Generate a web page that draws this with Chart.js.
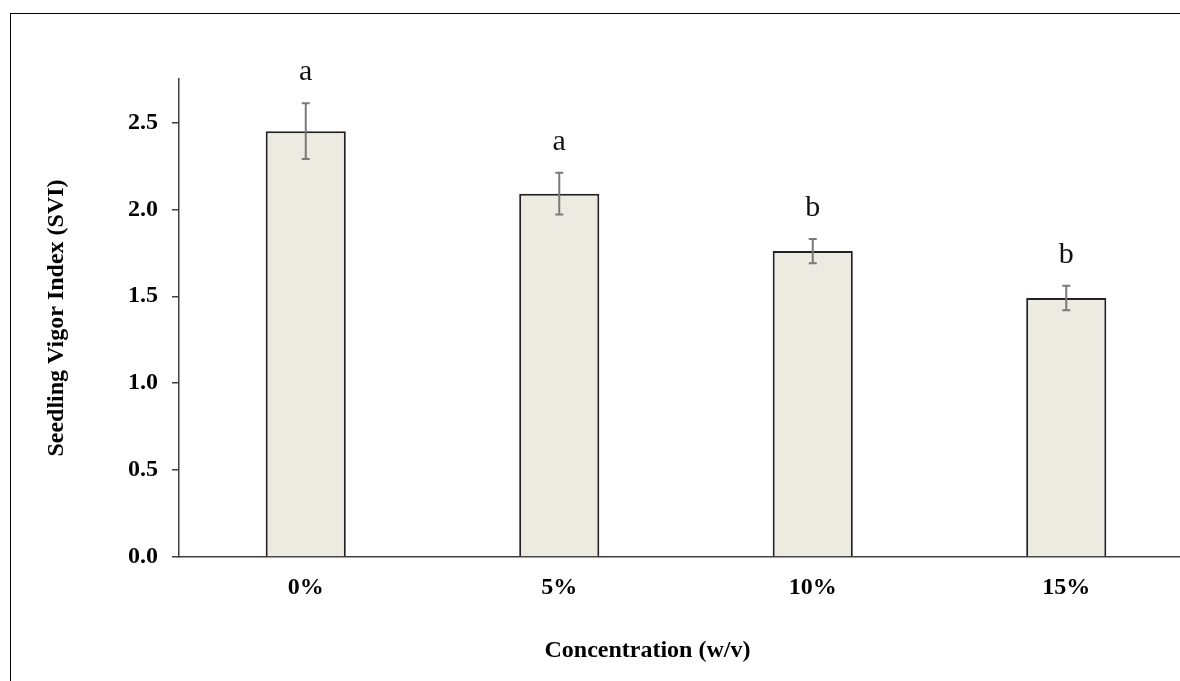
<!DOCTYPE html>
<html>
<head>
<meta charset="utf-8">
<script src="https://cdn.jsdelivr.net/npm/chart.js@4.4.1/dist/chart.umd.min.js"></script>
<style>
  html, body { margin: 0; padding: 0; background: #fff; overflow: hidden; }
  body { width: 1180px; height: 681px; position: relative; }
  #frame { position: absolute; left: 10px; top: 13px; width: 1200px; height: 700px;
           border-top: 1.5px solid #000; border-left: 1.5px solid #000; }
  #wrap { position: absolute; left: 0; top: 0; width: 1200px; height: 681px; }
</style>
</head>
<body>
<div id="frame"></div>
<div id="wrap"><canvas id="barChart"></canvas></div>
<script>
// Data
const concentrations = ["0%", "5%", "10%", "15%"];
const svi = [2.45, 2.09, 1.76, 1.49];
const sviError = [0.16, 0.12, 0.07, 0.07];
const groupLetters = ["a", "a", "b", "b"];
const xTitle = "Concentration (w/v)";
const yTitle = "Seedling Vigor Index (SVI)";

// error bars + significance letters, drawn with the chart's own scales
const errorBarPlugin = {
  id: "errorBars",
  afterDatasetsDraw(chart) {
    const ctx = chart.ctx;
    const y = chart.scales.y;
    const meta = chart.getDatasetMeta(0);
    ctx.save();
    meta.data.forEach((bar, i) => {
      const x = bar.x;
      const top = y.getPixelForValue(svi[i] + sviError[i]);
      const bottom = y.getPixelForValue(svi[i] - sviError[i]);
      ctx.strokeStyle = "#7a7a7a";
      ctx.lineWidth = 2;
      ctx.beginPath();
      ctx.moveTo(x, top); ctx.lineTo(x, bottom);
      ctx.moveTo(x - 4, top); ctx.lineTo(x + 4, top);
      ctx.moveTo(x - 4, bottom); ctx.lineTo(x + 4, bottom);
      ctx.stroke();
      // letter above the error bar
      ctx.fillStyle = "#111";
      ctx.font = "30px 'Liberation Serif'";
      ctx.textAlign = "center";
      ctx.textBaseline = "alphabetic";
      ctx.fillText(groupLetters[i], x, top - 23);
    });
    ctx.restore();
  },
  // x axis title sits a bit left of the axis centre in the original
  afterDraw(chart) {
    const ctx = chart.ctx;
    const xs = chart.scales.x;
    ctx.save();
    ctx.fillStyle = "#000";
    ctx.font = "bold 24px 'Liberation Serif'";
    ctx.textAlign = "center";
    ctx.textBaseline = "middle";
    ctx.fillText(xTitle, xs.left + (xs.right - xs.left) * 0.462, xs.bottom - 30);
    ctx.restore();
  }
};

const config = {
  type: "bar",
  data: {
    labels: concentrations,
    datasets: [
      {
        label: "SVI",
        data: svi,
        backgroundColor: "#edebe1",
        borderColor: "#222",
        borderWidth: 2,
        categoryPercentage: 1,
        barPercentage: 0.316,
      },
    ],
  },
  options: {
    responsive: true,
    maintainAspectRatio: false,
    animation: false,
    layout: { padding: { left: 15, top: 79, right: 7, bottom: 0 } },
    plugins: { legend: { display: false }, tooltip: { enabled: false } },
    scales: {
      x: {
        offset: true,
        grid: { display: false, drawTicks: false },
        border: { display: true, color: "#404040", width: 1.5 },
        ticks: { color: "#000", padding: 16, font: { family: "Liberation Serif", size: 24, weight: "bold" } },
        afterFit: (scale) => { scale.height = 124; },
      },
      y: {
        min: 0,
        max: 2.75,
        grid: { drawOnChartArea: false, drawTicks: true, tickLength: 7, color: "#404040", lineWidth: 1.5 },
        border: { display: true, color: "#404040", width: 1.5 },
        ticks: {
          stepSize: 0.5,
          includeBounds: false,
          padding: 14,
          color: "#000",
          font: { family: "Liberation Serif", size: 24, weight: "bold" },
          callback: (v) => v.toFixed(1),
        },
        title: {
          display: true,
          text: yTitle,
          color: "#000",
          font: { family: "Liberation Serif", size: 24, weight: "bold" },
          padding: { top: 27, bottom: 0 },
        },
        afterFit: (scale) => { scale.width = 164; },
      },
    },
  },
  plugins: [errorBarPlugin],
};

const ctx = document.getElementById("barChart").getContext("2d");
new Chart(ctx, config);
</script>
</body>
</html>
